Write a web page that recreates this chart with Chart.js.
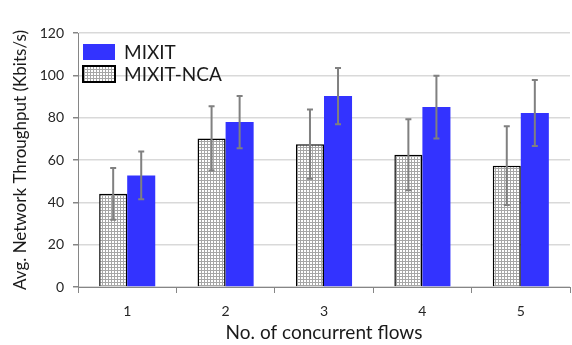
<!DOCTYPE html>
<html><head><meta charset="utf-8">
<script src="https://cdn.jsdelivr.net/npm/chart.js@4"></script>
<style>html,body{margin:0;padding:0;background:#fff}#wrap{width:572px;height:345px}</style>
</head><body><div id="wrap"><canvas id="c" width="572" height="345"></canvas></div>
<script>
const categories = ['1', '2', '3', '4', '5'];
const ncaValues = [44.0, 70.2, 67.5, 62.5, 57.3];
const ncaErrors = [12.2, 15.2, 16.4, 16.8, 18.6];
const mixitValues = [52.7, 77.9, 90.2, 85.0, 82.2];
const mixitErrors = [11.3, 12.3, 13.3, 14.8, 15.6];
const yTicks = [0, 20, 40, 60, 80, 100, 120];
const FONT = 'Lato, "Open Sans", sans-serif';

function makeGrid() {
  const p = document.createElement('canvas');
  p.width = 3; p.height = 3;
  const g = p.getContext('2d');
  g.fillStyle = '#ffffff'; g.fillRect(0, 0, 3, 3);
  g.fillStyle = '#a6a6a6';
  g.fillRect(0, 0, 3, 1);
  g.fillRect(0, 0, 1, 3);
  return document.getElementById('c').getContext('2d').createPattern(p, 'repeat');
}
const gridPattern = makeGrid();

const errorBars = {
  id: 'errorBars',
  afterDatasetsDraw(chart) {
    const ctx = chart.ctx, y = chart.scales.y;
    ctx.save();
    ctx.strokeStyle = '#808080';
    ctx.lineWidth = 2;
    chart.data.datasets.forEach((ds, i) => {
      const meta = chart.getDatasetMeta(i);
      meta.data.forEach((bar, j) => {
        const v = ds.data[j], e = ds.errors[j];
        const x = bar.x, top = y.getPixelForValue(v + e), bot = y.getPixelForValue(v - e);
        ctx.beginPath();
        ctx.moveTo(x, top); ctx.lineTo(x, bot);
        ctx.moveTo(x - 3, top); ctx.lineTo(x + 3, top);
        ctx.moveTo(x - 3, bot); ctx.lineTo(x + 3, bot);
        ctx.stroke();
      });
    });
    ctx.restore();
  },
  afterDraw(chart) {
    const ctx = chart.ctx, a = chart.chartArea;
    const order = [1, 0];
    ctx.save();
    ctx.font = '19px ' + FONT;
    ctx.textBaseline = 'middle';
    order.forEach((di, k) => {
      const ds = chart.data.datasets[di];
      const bx = a.left + 5, by = a.top + 11 + k * 22, bw = 32, bh = 16;
      ctx.fillStyle = ds.backgroundColor;
      ctx.fillRect(bx, by, bw, bh);
      if (ds.borderWidth) {
        ctx.strokeStyle = ds.borderColor; ctx.lineWidth = 2;
        ctx.strokeRect(bx, by, bw, bh);
      }
      ctx.fillStyle = '#1a1a1a';
      ctx.fillText(ds.label, bx + 41, by + bh / 2 + 1);
    });
    ctx.restore();
  }
};

new Chart(document.getElementById('c'), {
  type: 'bar',
  data: {
    labels: categories,
    datasets: [
      { label: 'MIXIT-NCA', data: ncaValues, errors: ncaErrors, backgroundColor: gridPattern,
        borderColor: '#000000', borderWidth: 1.5, categoryPercentage: 0.57, barPercentage: 1.0 },
      { label: 'MIXIT', data: mixitValues, errors: mixitErrors, backgroundColor: '#3333ff',
        borderWidth: 0, categoryPercentage: 0.57, barPercentage: 1.0 }
    ]
  },
  options: {
    responsive: false,
    animation: false,
    layout: { padding: { top: 33, right: 2, left: 0, bottom: 0 } },
    plugins: { legend: { display: false }, tooltip: { enabled: false } },
    scales: {
      x: {
        grid: { offset: true, drawOnChartArea: false, color: '#868686', tickLength: 6, tickColor: '#868686' },
        border: { color: '#868686', width: 1 },
        ticks: { font: { family: FONT, size: 14 }, color: '#262626', padding: 10 },
        title: { display: true, text: 'No. of concurrent flows', font: { family: FONT, size: 19 }, color: '#1a1a1a', padding: { top: 0, bottom: 1 } },
        afterFit(s) { s.height = 58; }
      },
      y: {
        min: 0, max: 120,
        afterBuildTicks(s) { s.ticks = yTicks.map(v => ({ value: v })); },
        grid: { color: '#d9d9d9', lineWidth: 1.5, tickLength: 5, tickColor: '#868686' },
        border: { color: '#868686', width: 1 },
        ticks: { font: { family: FONT, size: 14 }, color: '#262626', padding: 9 },
        title: { display: true, text: 'Avg. Network Throughput (Kbits/s)', font: { family: FONT, size: 17 }, color: '#1a1a1a', padding: { top: 10, bottom: 2 } },
        afterFit(s) { s.width = 78; }
      }
    }
  },
  plugins: [errorBars]
});
</script></body></html>
